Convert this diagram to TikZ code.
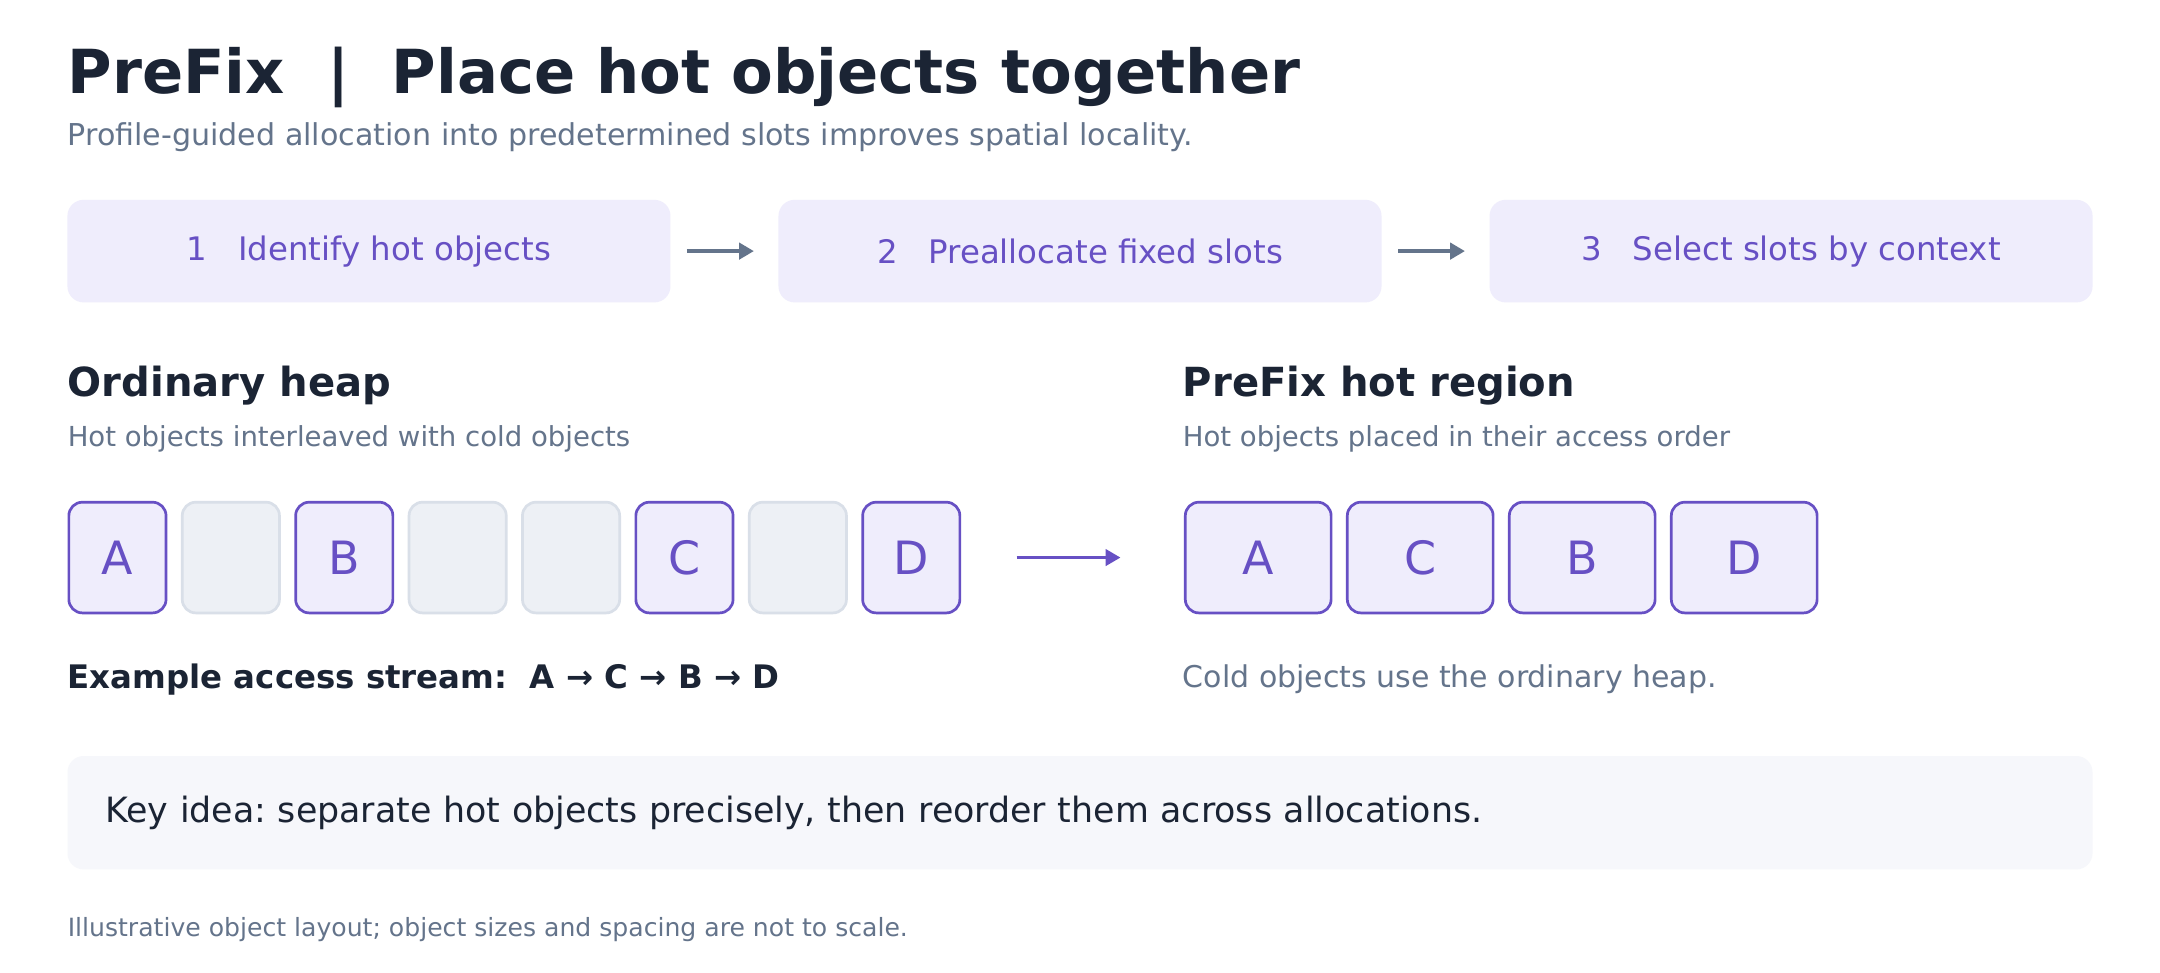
\documentclass[tikz,border=0pt]{standalone}
\usepackage{fontspec}
\setmainfont{DejaVu Sans}
\usepackage{xcolor}
\usetikzlibrary{positioning,arrows.meta}

\definecolor{ink}{HTML}{1B2434}
\definecolor{muted}{HTML}{64748B}
\definecolor{hotline}{HTML}{6750C4}
\definecolor{hotfill}{HTML}{EFEDFC}
\definecolor{coldfill}{HTML}{EDF0F5}
\definecolor{coldline}{HTML}{D9DFE8}
\definecolor{notefill}{HTML}{F6F7FB}

\tikzset{
  txt/.style={inner sep=0pt, anchor=base west},
  stepbox/.style={fill=hotfill, rounded corners=12pt, minimum width=446.7pt,
    minimum height=76pt, inner sep=0pt, text=hotline, font=\fontsize{24}{29}\selectfont},
  hot/.style={draw=hotline, fill=hotfill, line width=2pt, rounded corners=10pt,
    minimum width=72pt, minimum height=82pt, inner sep=0pt, text=hotline,
    font=\fontsize{34}{40}\selectfont},
  cold/.style={hot, draw=coldline, fill=coldfill},
  wide/.style={minimum width=108pt},
  flow/.style={muted, line width=3pt, -{Triangle[length=11pt,width=12pt]}},
}

\begin{document}
\frenchspacing
\begin{tikzpicture}[x=1pt,y=-1pt]
  \useasboundingbox[fill=white] (0,0) rectangle (1600,720);

  \node[txt, text=ink, font=\fontsize{45}{54}\selectfont\bfseries] (title) at (50,69)
    {PreFix~~|~~Place hot objects together};
  \node[txt, text=muted, font=\fontsize{22.3}{27}\selectfont] (sub) at (50,108)
    {Profile-guided allocation into predetermined slots improves spatial locality.};

  \node[stepbox] (step1) at (273.3,186)  {1~~~Identify hot objects};
  \node[stepbox] (step2) at (800,186)    {2~~~Preallocate fixed slots};
  \node[stepbox] (step3) at (1326.7,186) {3~~~Select slots by context};

  \draw[flow, shorten <=12pt, shorten >=18pt] (step1.east) -- (step2.west);
  \draw[flow, shorten <=12pt, shorten >=18pt] (step2.east) -- (step3.west);

  \node[txt, text=ink, font=\fontsize{29.7}{36}\selectfont\bfseries] (heaphead) at (50,294)
    {Ordinary heap};
  \node[txt, text=muted, font=\fontsize{20.4}{25}\selectfont] (heapsub) at (50,331)
    {Hot objects interleaved with cold objects};
  \node[txt, text=ink, font=\fontsize{29.7}{36}\selectfont\bfseries] (regionhead) at (876,294)
    {PreFix hot region};
  \node[txt, text=muted, font=\fontsize{20.4}{25}\selectfont] (regionsub) at (876,331)
    {Hot objects placed in their access order};

  \node[hot]  (heapA) at (87,413)  {A};
  \node[cold] (cold1) at (171,413) {};
  \node[hot]  (heapB) at (255,413) {B};
  \node[cold] (cold2) at (339,413) {};
  \node[cold] (cold3) at (423,413) {};
  \node[hot]  (heapC) at (507,413) {C};
  \node[cold] (cold4) at (591,413) {};
  \node[hot]  (heapD) at (675,413) {D};

  \node[hot, wide] (hotA) at (932,413)  {A};
  \node[hot, wide] (hotC) at (1052,413) {C};
  \node[hot, wide] (hotB) at (1172,413) {B};
  \node[hot, wide] (hotD) at (1292,413) {D};

  \draw[flow, hotline, line width=2.5pt, shorten <=41pt, shorten >=47pt] (heapD.east) -- (hotA.west);

  \node[txt, text=ink, font=\fontsize{24}{29}\selectfont\bfseries] (stream) at (50,510)
    {Example access stream:~~A → C → B → D};
  \node[txt, text=muted, font=\fontsize{22.2}{26}\selectfont] (coldnote) at (876,509)
    {Cold objects use the ordinary heap.};

  \node[fill=notefill, rounded corners=12pt, minimum width=1500pt, minimum height=84pt,
    inner xsep=28pt, inner ysep=0pt, text width=1444pt, align=left, text=ink,
    font=\fontsize{25.8}{31}\selectfont] (keyidea) at (800,602)
    {Key idea: separate hot objects precisely, then reorder them across allocations.};

  \node[txt, text=muted, font=\fontsize{18.6}{22}\selectfont] (footer) at (50,694)
    {Illustrative object layout; object sizes and spacing are not to scale.};
\end{tikzpicture}
\end{document}
